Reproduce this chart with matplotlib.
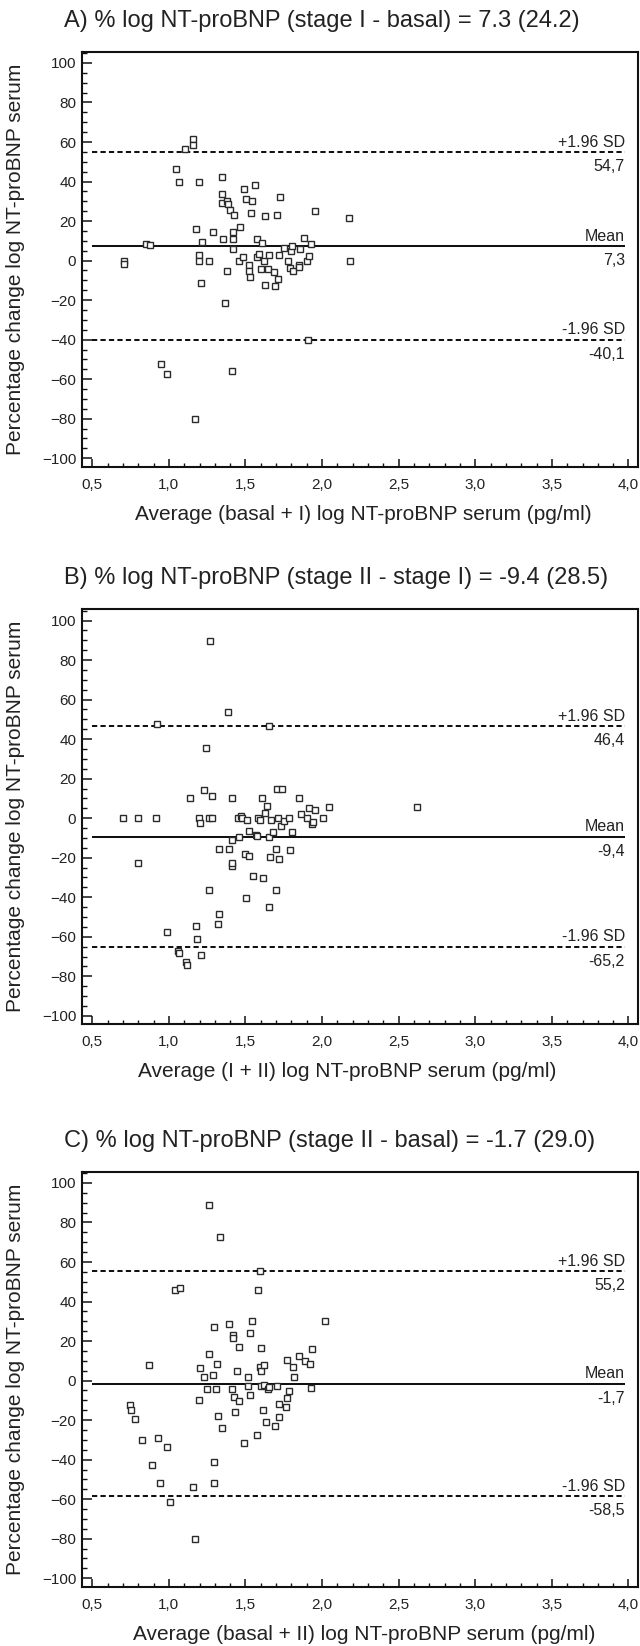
import matplotlib
matplotlib.use("Agg")
import matplotlib.pyplot as plt
from matplotlib.ticker import MultipleLocator

plt.rcParams['font.family'] = ['Liberation Sans', 'DejaVu Sans']

# ---------------- data ----------------
titles = [
    "A) % log NT-proBNP (stage I - basal) = 7.3 (24.2)",
    "B) % log NT-proBNP (stage II - stage I) = -9.4 (28.5)",
    "C) % log NT-proBNP (stage II - basal) = -1.7 (29.0)",
]
xlabels = [
    "Average (basal + I) log NT-proBNP serum (pg/ml)",
    "Average (I + II) log NT-proBNP serum (pg/ml)",
    "Average (basal + II) log NT-proBNP serum (pg/ml)",
]
ylabel = "Percentage change log NT-proBNP serum"

x_ticks = [0.5, 1.0, 1.5, 2.0, 2.5, 3.0, 3.5, 4.0]
x_ticklabels = ["0,5", "1,0", "1,5", "2,0", "2,5", "3,0", "3,5", "4,0"]
y_ticks = [100, 80, 60, 40, 20, 0, -20, -40, -60, -80, -100]

means = [7.3, -9.4, -1.7]
upper = [54.7, 46.4, 55.2]
lower = [-40.1, -65.2, -58.5]
mean_txt = ["7,3", "-9,4", "-1,7"]
upper_txt = ["54,7", "46,4", "55,2"]
lower_txt = ["-40,1", "-65,2", "-58,5"]

a_x = [0.707, 0.709, 0.850, 0.877, 0.949, 0.986, 1.045, 1.064, 1.105, 1.155, 1.155, 1.170,
       1.177, 1.194, 1.197, 1.197, 1.216, 1.208, 1.259, 1.288, 1.344, 1.344, 1.344, 1.355,
       1.364, 1.377, 1.377, 1.388, 1.399, 1.416, 1.418, 1.420, 1.424, 1.414, 1.460, 1.464,
       1.484, 1.490, 1.505, 1.523, 1.523, 1.529, 1.534, 1.545, 1.562, 1.575, 1.575, 1.588,
       1.603, 1.610, 1.621, 1.625, 1.629, 1.649, 1.653, 1.688, 1.692, 1.710, 1.705, 1.716,
       1.725, 1.749, 1.779, 1.790, 1.797, 1.805, 1.808, 1.849, 1.855, 1.851, 1.884, 1.899,
       1.910, 1.914, 1.927, 1.953, 2.177, 2.180]
a_y = [-0.2, -1.5, 8.5, 7.8, -52.2, -57.5, 46.1, 39.6, 56.6, 61.4, 58.3, -80.4,
       16.2, 40.0, 2.6, -0.2, 9.2, -11.1, -0.2, 14.6, 42.2, 33.5, 28.9, 10.9,
       -21.4, -5.1, 30.3, 28.4, 25.5, 6.1, 11.1, 14.6, 23.0, -55.8, -0.2, 17.0,
       1.9, 36.4, 31.3, -2.2, -5.1, -8.2, 24.1, 30.4, 38.3, 10.9, 1.9, 3.1,
       -4.3, 8.7, -0.2, 22.4, -12.2, -4.3, 2.6, -6.0, -13.1, -9.4, 23.0, 2.9,
       32.3, 6.3, -0.2, -3.7, 5.1, 7.3, -5.1, -2.4, 6.0, -3.4, 11.2, -0.2,
       -40.1, 2.4, 8.2, 25.0, 21.3, -0.2]

b_x = [0.702, 0.796, 0.796, 0.916, 0.925, 1.140, 1.199, 1.205, 1.227, 1.242, 1.260, 1.266,
       1.282, 1.282, 1.327, 1.384, 1.392, 1.410, 1.410, 1.414, 1.453, 1.460, 1.471, 1.475,
       1.499, 1.508, 1.521, 1.523, 1.569, 1.575, 1.584, 1.595, 1.608, 1.625, 1.638, 1.653,
       1.653, 1.660, 1.667, 1.682, 1.697, 1.706, 1.710, 1.721, 1.730, 1.738, 1.751, 1.782,
       1.790, 1.803, 1.847, 1.860, 1.899, 1.914, 1.936, 1.940, 1.953, 2.008, 2.045, 2.620,
       0.990, 1.062, 1.066, 1.110, 1.118, 1.177, 1.181, 1.212, 1.259, 1.320, 1.325, 1.503,
       1.547, 1.612, 1.656, 1.700, 1.412]
b_y = [0.0, 0.0, -22.6, 0.0, 47.8, 10.4, 0.0, -2.6, 14.1, 35.7, 0.0, 89.5,
       11.1, 0.0, -15.8, 53.9, -15.8, 10.0, -11.1, -24.0, 0.0, -9.4, 0.9, 0.0,
       -17.9, -0.9, -19.2, -6.6, -8.5, -8.8, 0.0, -0.9, 10.0, 2.6, 6.3, 46.8,
       -9.5, -19.6, -0.9, -7.0, -15.6, 15.0, 0.0, -20.7, -4.1, 15.0, -1.2, 0.0,
       -16.2, -7.1, 10.2, 1.9, 0.0, 5.4, -2.9, -2.0, 3.9, 0.0, 5.6, 5.5,
       -57.5, -67.0, -68.3, -72.9, -74.2, -54.8, -60.9, -69.2, -36.3, -53.6, -48.4, -40.3,
       -29.5, -30.4, -45.0, -36.3, -22.8]

c_x = [1.262, 1.334, 1.040, 1.075, 1.597, 1.582,
       0.746, 0.753, 0.777, 0.825, 0.873, 0.890, 0.927, 0.942, 0.986, 1.007, 1.160, 1.171,
       1.195, 1.206, 1.230, 1.249, 1.262, 1.290, 1.292, 1.292, 1.292, 1.307, 1.314, 1.321,
       1.347, 1.395, 1.414, 1.421, 1.421, 1.425, 1.432, 1.442, 1.460, 1.460, 1.490, 1.519,
       1.519, 1.527, 1.529, 1.540, 1.573, 1.595, 1.601, 1.599, 1.603, 1.614, 1.621, 1.623,
       1.634, 1.649, 1.655, 1.690, 1.705, 1.716, 1.716, 1.764, 1.769, 1.773, 1.782, 1.808,
       1.819, 1.847, 1.890, 1.921, 1.927, 1.934, 2.021]
c_y = [88.9, 72.6, 45.6, 46.9, 55.3, 45.6,
       -12.2, -14.7, -19.2, -30.2, 7.8, -42.5, -29.2, -51.8, -33.4, -61.4, -53.6, -80.0,
       -9.9, 6.4, 1.7, -4.5, 13.5, 3.0, 27.0, -41.0, -51.8, -4.5, 8.4, -18.0,
       -23.8, 28.4, -4.4, 23.3, 21.8, -8.4, -16.0, 5.0, -10.1, 17.2, -31.4, 2.0,
       -2.9, 23.9, -7.1, 30.4, -27.3, 7.1, 5.0, 16.5, -2.9, -14.7, 7.8, -2.2,
       -21.2, -4.4, -3.4, -22.9, -2.9, -11.8, -18.4, -13.5, 10.6, -8.6, -5.2, 6.9,
       2.0, 12.6, 10.1, 8.4, -3.9, 16.2, 29.9]

panels_x = [a_x, b_x, c_x]
panels_y = [a_y, b_y, c_y]

# ---------------- layout ----------------
W, H = 640, 1646
fig = plt.figure(figsize=(W / 100, H / 100), dpi=100)

ax_left, ax_right = 81.7, 637.5
ax_tops = [51.7, 609.3, 1171.7]
ax_h = 415.0
xlabel_cx = [363, 347, 364]
TXT = '#222222'
EDGE = '#2a2a2a'

for i in range(3):
    top = ax_tops[i]
    ax = fig.add_axes([ax_left / W, 1 - (top + ax_h) / H,
                       (ax_right - ax_left) / W, ax_h / H])
    ax.set_xlim(0.431, 4.059)
    ax.set_ylim(-104.3, 105.7)

    ax.hlines([upper[i], lower[i]], 0.5, 3.977, colors='#111111',
              linestyles=(0, (2.6, 1.6)), linewidth=1.45, zorder=2)
    ax.hlines([means[i]], 0.5, 3.977, colors='#111111', linewidth=1.45, zorder=2)

    ax.plot(panels_x[i], panels_y[i], linestyle='none', marker='s', markersize=4.5,
            markerfacecolor='white', markeredgecolor=EDGE, markeredgewidth=1.0, zorder=3)

    xr = 3.977
    for val, top_lbl, bot_lbl in [(upper[i], '+1.96 SD', upper_txt[i]),
                                  (means[i], 'Mean', mean_txt[i]),
                                  (lower[i], '-1.96 SD', lower_txt[i])]:
        ax.annotate(top_lbl, (xr, val), xytext=(0, 4), textcoords='offset points',
                    ha='right', va='baseline', fontsize=11.5, color=TXT)
        ax.annotate(bot_lbl, (xr, val), xytext=(0, -5), textcoords='offset points',
                    ha='right', va='top', fontsize=11.5, color=TXT)

    ax.set_xticks(x_ticks)
    ax.set_xticklabels(x_ticklabels)
    ax.set_yticks(y_ticks)
    ax.xaxis.set_minor_locator(MultipleLocator(0.1))
    ax.yaxis.set_minor_locator(MultipleLocator(5))
    ax.tick_params(axis='x', which='major', direction='in', length=6, width=1.1,
                   labelsize=11, pad=8, colors='#111111', labelcolor=TXT)
    ax.tick_params(axis='x', which='minor', direction='in', length=3, width=1.0,
                   colors='#111111')
    ax.tick_params(axis='y', which='major', direction='in', length=7, width=1.1,
                   labelsize=11, pad=4, colors='#111111', labelcolor=TXT)
    ax.tick_params(axis='y', which='minor', direction='in', length=3.5, width=1.0,
                   colors='#111111')
    for s in ax.spines.values():
        s.set_linewidth(1.5)
        s.set_color('#111111')

    # title (left aligned like the original)
    fig.text(64 / W, 1 - (top - 25.0) / H, titles[i], ha='left', va='baseline',
             fontsize=17, color=TXT)
    # x label
    fig.text(xlabel_cx[i] / W, 1 - (top + ax_h + 53) / H, xlabels[i],
             ha='center', va='baseline', fontsize=15, color=TXT)
    # y label
    fig.text(16 / W, 1 - (top + ax_h / 2) / H, ylabel, rotation=90,
             ha='center', va='center', fontsize=15, color=TXT)

fig.savefig('out.png', dpi=100)
